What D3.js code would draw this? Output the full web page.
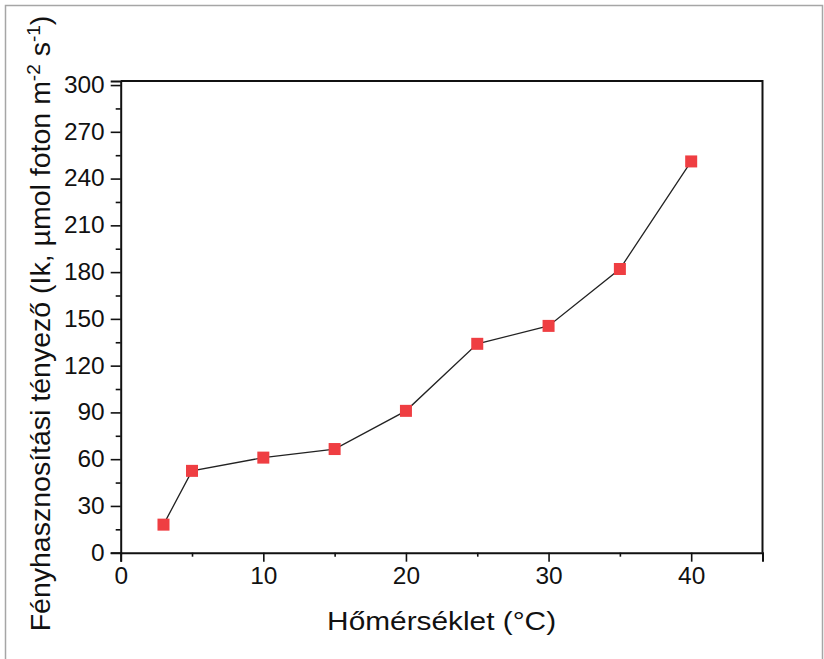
<!DOCTYPE html>
<html>
<head>
<meta charset="utf-8">
<script src="https://cdn.jsdelivr.net/npm/d3@7/dist/d3.min.js"></script>
<style>
  html, body { margin: 0; padding: 0; background: #fff; }
  svg { display: block; font-family: "Liberation Sans", Arial, sans-serif; }
</style>
</head>
<body>
<svg id="chart" width="824" height="659"></svg>
<script>
// Data
const temperatures = [3, 5, 10, 15, 20, 25, 30, 35, 40];
const ikValues = [18, 52.5, 61, 66.5, 91, 134, 145.5, 182, 251];
const xTicks = [0, 10, 20, 30, 40];
const yTicks = [0, 30, 60, 90, 120, 150, 180, 210, 240, 270, 300];
const xTitle = "Hőmérséklet (°C)";

(function () {
const svg = d3.select("#chart");

// outer image frame
svg.append("rect")
  .attr("x", 5.5).attr("y", 5.5)
  .attr("width", 817).attr("height", 660)
  .attr("fill", "none").attr("stroke", "#a6a6a6").attr("stroke-width", 1.5);

const pL = 120.7, pR = 762.5, pT = 81, pB = 552.7;
const x = d3.scaleLinear().domain([0, 45]).range([pL, pR]);
const y = d3.scaleLinear().domain([0, 302.6]).range([pB, pT]);

// frame top/right
svg.append("path")
  .attr("d", `M${pL},${pT}H${pR}V${pB}`)
  .attr("fill", "none").attr("stroke", "#111").attr("stroke-width", 2);

// x axis
const xAxis = svg.append("g").attr("transform", `translate(0,${pB})`)
  .call(d3.axisBottom(x).tickValues(xTicks).tickSize(9).tickPadding(6).tickFormat(d3.format("d")));
const xMinor = svg.append("g").attr("transform", `translate(0,${pB})`)
  .call(d3.axisBottom(x).tickValues([5, 15, 25, 35, 45]).tickSize(4).tickFormat(""));
xMinor.select(".domain").remove();

// y axis
const yAxis = svg.append("g").attr("transform", `translate(${pL},0)`)
  .call(d3.axisLeft(y).tickValues(yTicks).tickSize(10).tickPadding(6).tickFormat(d3.format("d")));
const yMinor = svg.append("g").attr("transform", `translate(${pL},0)`)
  .call(d3.axisLeft(y).tickValues(d3.range(15, 300, 30)).tickSize(5).tickFormat(""));
yMinor.select(".domain").remove();

[xAxis, yAxis].forEach(g => {
  g.select(".domain").attr("stroke", "#111").attr("stroke-width", 2);
  g.selectAll(".tick text").attr("font-size", 23).attr("fill", "#111")
    .attr("font-family", "Liberation Sans, Arial, sans-serif")
    .attr("lengthAdjust", "spacingAndGlyphs")
    .attr("textLength", function () { return this.textContent.length * 13.6; });
});
svg.selectAll(".tick line").attr("stroke", "#111").attr("stroke-width", 1.6);

// line
const line = d3.line().x((d, i) => x(temperatures[i])).y(d => y(d));
svg.append("path")
  .datum(ikValues)
  .attr("d", line)
  .attr("fill", "none").attr("stroke", "#222").attr("stroke-width", 1.3);

// markers
const ms = 12;
svg.selectAll("rect.pt")
  .data(ikValues)
  .join("rect")
  .attr("class", "pt")
  .attr("x", (d, i) => x(temperatures[i]) - ms / 2)
  .attr("y", d => y(d) - ms / 2)
  .attr("width", ms).attr("height", ms)
  .attr("fill", "#ef3e42");

// x title
svg.append("text")
  .attr("x", (pL + pR) / 2).attr("y", 630)
  .attr("text-anchor", "middle")
  .attr("font-size", 26).attr("fill", "#111")
  .attr("lengthAdjust", "spacingAndGlyphs")
  .attr("textLength", 229)
  .text(xTitle);

// y title
const yt = svg.append("text")
  .attr("transform", `translate(50,${(15 + 632) / 2}) rotate(-90)`)
  .attr("text-anchor", "middle")
  .attr("font-size", 28.5).attr("fill", "#111");
yt.append("tspan").text("Fényhasznosítási tényező (Ik, µmol foton m");
yt.append("tspan").attr("dy", -10).attr("font-size", 19).text("-2");
yt.append("tspan").attr("dy", 10).text(" s");
yt.append("tspan").attr("dy", -10).attr("font-size", 19).text("-1");
yt.append("tspan").attr("dy", 10).text(")");
})();
</script>
</body>
</html>
